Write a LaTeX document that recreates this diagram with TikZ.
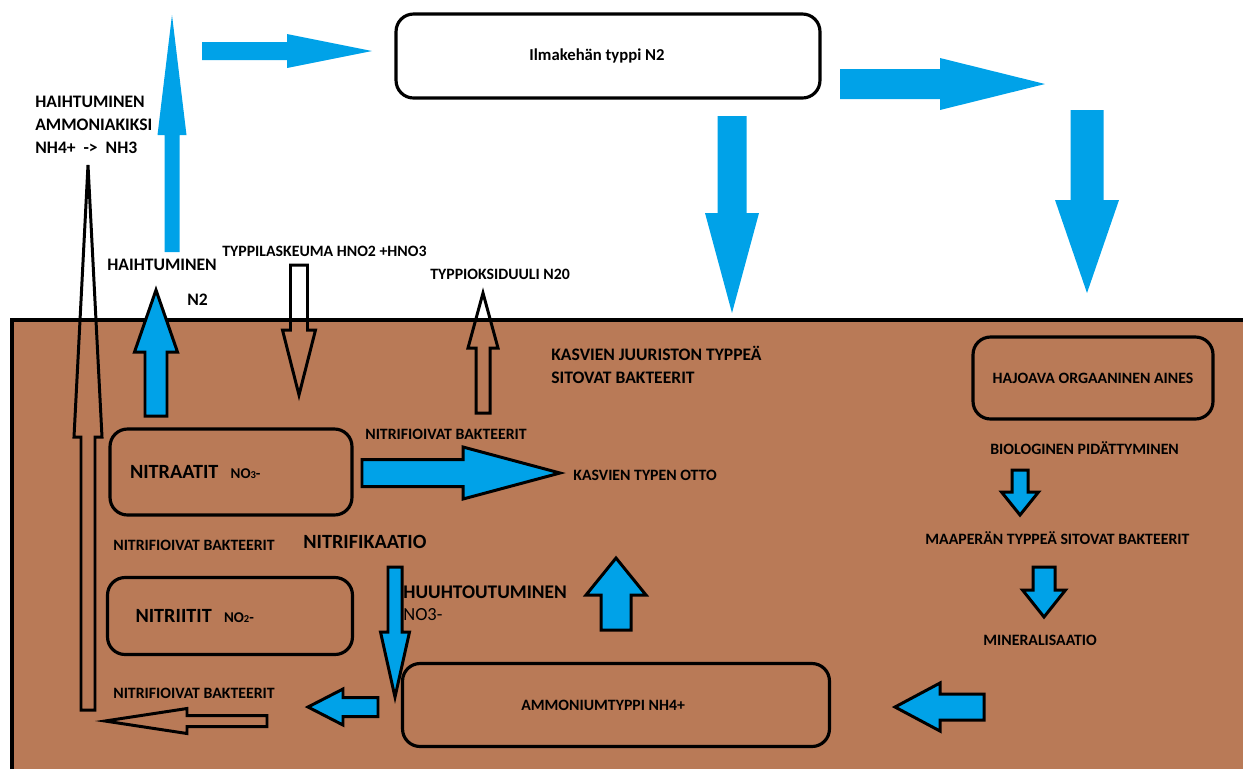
\documentclass[tikz,border=0pt]{standalone}
\usepackage{fontspec}
\setmainfont{Carlito}
\definecolor{paintblue}{RGB}{0,162,232}
\definecolor{soil}{RGB}{185,122,87}
% block arrows: style, position, tail, head base, tip, shaft half width, head half width
\def\varrow#1#2#3#4#5#6#7{\draw[#1] ({#2-#6},#3) -- ({#2-#6},#4) -- ({#2-#7},#4) -- (#2,#5) -- ({#2+#7},#4) -- ({#2+#6},#4) -- ({#2+#6},#3) -- cycle;}
\def\harrow#1#2#3#4#5#6#7{\draw[#1] (#3,{#2-#6}) -- (#4,{#2-#6}) -- (#4,{#2-#7}) -- (#5,#2) -- (#4,{#2+#7}) -- (#4,{#2+#6}) -- (#3,{#2+#6}) -- cycle;}
\def\smallion#1{{\fontsize{8.5}{10}\selectfont NO{\fontsize{6}{7}\selectfont #1}-}}

\begin{document}
\begin{tikzpicture}[x=0.02cm, y=-0.02cm]
    \tikzstyle{sky arrow}=[fill=paintblue, draw=none]
    \tikzstyle{soil arrow}=[fill=paintblue, draw=black, line width=1.7pt]
    \tikzstyle{hollow arrow}=[draw=black, line width=1.7pt]
    \tikzstyle{box}=[draw=black, line width=1.8pt, rounded corners=0.35cm, inner sep=0pt, font=\bfseries\fontsize{9}{11}\selectfont]
    \tikzstyle{lbl}=[anchor=west, inner sep=0pt, font=\bfseries\fontsize{9}{11}\selectfont]
    \tikzstyle{big lbl}=[lbl, align=left, font=\bfseries\fontsize{10}{13}\selectfont]
    \tikzstyle{title lbl}=[lbl, font=\bfseries\fontsize{11.5}{14}\selectfont]

    \useasboundingbox (0,0) rectangle (1243,769);

    % maaperä
    \fill[soil] (10,320) rectangle (1243,769);
    \draw[line width=2.7pt] (12,769) -- (12,320) -- (1243,320);

    % laatikot
    \node[box, fill=white, minimum width=8.48cm, minimum height=1.68cm, font=\bfseries\fontsize{9.5}{11}\selectfont] (B-air) at (608,56) {Ilmakehän typpi N2\hspace*{12.5pt}};
    \node[box, minimum width=4.84cm, minimum height=1.72cm, text width=4.04cm, align=left, inner xsep=0.4cm] (B-no3) at (231,472) {\fontsize{11.5}{14}\selectfont NITRAATIT\hspace{7pt}\smallion{3}};
    \node[box, minimum width=4.9cm, minimum height=1.54cm, text width=3.78cm, align=left, inner xsep=0.56cm] (B-no2) at (230,616) {\fontsize{11.5}{14}\selectfont NITRIITIT\hspace{7pt}\smallion{2}};
    \node[box, minimum width=8.54cm, minimum height=1.66cm] (B-nh4) at (616,705) {AMMONIUMTYPPI NH4+\hspace*{14.7pt}};
    \node[box, minimum width=4.8cm, minimum height=1.64cm] (B-org) at (1093,378) {HAJOAVA ORGAANINEN AINES};

    % tekstit
    \node[big lbl] (L-nh3) at (35,125) {HAIHTUMINEN\\AMMONIAKIKSI\\NH4+\ \ ->\ \ NH3};
    \node[big lbl] (L-haiht) at (107,265) {HAIHTUMINEN};
    \node[big lbl] (L-n2) at (187,300) {N2};
    \node[lbl] (L-lask) at (222,251) {TYPPILASKEUMA HNO2 +HNO3};
    \node[lbl] (L-n2o) at (430,274) {TYPPIOKSIDUULI N20};
    \node[big lbl] (L-juuri) at (551,365) {KASVIEN JUURISTON TYPPEÄ\\SITOVAT BAKTEERIT};
    \node[lbl] (L-bakt1) at (365,434) {NITRIFIOIVAT BAKTEERIT};
    \node[lbl] (L-otto) at (573,475) {KASVIEN TYPEN OTTO};
    \node[lbl] (L-bakt2) at (113,545) {NITRIFIOIVAT BAKTEERIT};
    \node[title lbl] (L-nitr) at (303,542) {NITRIFIKAATIO};
    \node[lbl, font=\bfseries\fontsize{11}{13}\selectfont] (L-huuh) at (403,592) {HUUHTOUTUMINEN};
    \node[lbl, font=\fontsize{10.5}{12}\selectfont] (L-huuh3) at (403,615) {NO3-};
    \node[lbl] (L-bakt3) at (113,693) {NITRIFIOIVAT BAKTEERIT};
    \node[lbl] (L-bio) at (990,448) {BIOLOGINEN PIDÄTTYMINEN};
    \node[lbl] (L-maa) at (925,538) {MAAPERÄN TYPPEÄ SITOVAT BAKTEERIT};
    \node[lbl] (L-min) at (983,640) {MINERALISAATIO};

    % nuolet ilmassa
    \foreach \pos/\tail/\base/\tip/\sw/\hw in {172/252/135/15/7.5/14.5, 732/116/213/313/14.5/27, 1087/110/200/293/16.5/32}
        {\varrow{sky arrow}{\pos}{\tail}{\base}{\tip}{\sw}{\hw}}
    \foreach \pos/\tail/\base/\tip/\sw/\hw in {51/202/287/372/9/17, 84/840/940/1045/15/26}
        {\harrow{sky arrow}{\pos}{\tail}{\base}{\tip}{\sw}{\hw}}

    % nuolet maassa
    \foreach \pos/\tail/\base/\tip/\sw/\hw in {156/416/352/290/11/21.5, 395/567/632/697/7/14.5, 616/630/595/558/15/30, 1020/470/492/515/8/18.5, 1044/567/590/617/11/21.5}
        {\varrow{soil arrow}{\pos}{\tail}{\base}{\tip}{\sw}{\hw}}
    \foreach \pos/\tail/\base/\tip/\sw/\hw in {473/362/463/560/13.5/26, 707/378/343/308/9.5/18, 707/984/940/895/13/24}
        {\harrow{soil arrow}{\pos}{\tail}{\base}{\tip}{\sw}{\hw}}

    % ontot nuolet
    \foreach \pos/\tail/\base/\tip/\sw/\hw in {88/710/437/165/7/14, 299/265/330/395/8.5/16.5, 483/413/348/293/7/15}
        {\varrow{hollow arrow}{\pos}{\tail}{\base}{\tip}{\sw}{\hw}}
    \harrow{hollow arrow}{721}{267}{187}{105}{5.5}{12.5}
\end{tikzpicture}
\end{document}
